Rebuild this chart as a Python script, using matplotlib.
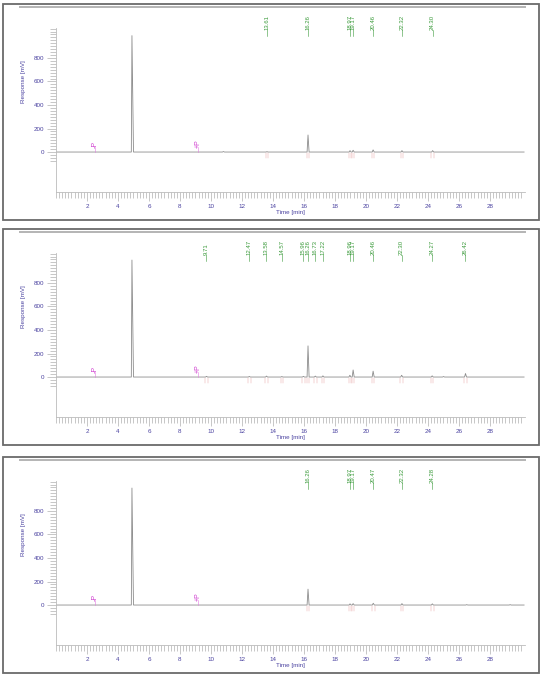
import numpy as np
import matplotlib.pyplot as plt
from matplotlib.lines import Line2D
from matplotlib.patches import Rectangle
from matplotlib.transforms import blended_transform_factory

plt.rcParams['font.family'] = ['Liberation Sans', 'DejaVu Sans']

# peak tables (retention time [min], height [mV])
rt1 = [4.90, 10.80, 13.61, 16.26, 18.97, 19.17, 20.46, 22.32, 24.30]
mv1 = [990, 4, 3, 145, 12, 15, 18, 12, 12]
lab1 = ['13.61', '16.26', '18.97', '19.17', '20.46', '22.32', '24.30']

rt2 = [4.90, 9.71, 12.47, 13.58, 14.57, 15.96, 16.26, 16.73, 17.22,
       18.96, 19.17, 20.46, 22.30, 24.27, 25.00, 26.42]
mv2 = [995, 6, 5, 8, 4, 6, 265, 8, 10, 15, 60, 50, 15, 10, 4, 30]
lab2 = ['9.71', '12.47', '13.58', '14.57', '15.96', '16.26', '16.73', '17.22',
        '18.96', '19.17', '20.46', '22.30', '24.27', '26.42']

rt3 = [4.90, 16.26, 18.97, 19.17, 20.47, 22.32, 24.28, 26.50, 29.30]
mv3 = [995, 135, 10, 12, 15, 12, 10, 3, 3]
lab3 = ['16.26', '18.97', '19.17', '20.47', '22.32', '24.28']

event_rt = [2.52, 9.18]
event_txt = ['-P', '+P']

x_ticks = list(range(2, 29, 2))
y_ticks = [0, 200, 400, 600, 800]

panels = [(rt1, mv1, lab1), (rt2, mv2, lab2), (rt3, mv3, lab3)]

BLUE = '#4a42a0'
GREEN = '#3a9a3a'
W, H = 550, 681


def trace(rts, mvs):
    t = [0.0]
    y = [0.0]
    for r, h in sorted(zip(rts, mvs)):
        wl = 0.04 if h > 500 else 0.06
        wr = 0.10 if h > 500 else 0.07
        t += [r - wl, r, r + wr]
        y += [0, h, 0]
    t.append(30.2)
    y.append(0)
    return t, y


fig = plt.figure(figsize=(5.5, 6.81), dpi=100)
tops = [4, 229, 457]

for top, (rts, mvs, labs) in zip(tops, panels):
    # panel frame
    fig.add_artist(Rectangle((3 / W, 1 - (top + 216) / H), 536 / W, 216 / H,
                             transform=fig.transFigure, fill=False,
                             ec='#6a6a6a', lw=1.3))
    fig.add_artist(Line2D([20 / W, 525 / W], [1 - (top + 2.5) / H] * 2,
                          transform=fig.transFigure, color='#b4b4b4', lw=1.4))

    ax = fig.add_axes([56 / W, 1 - (top + 188) / H, 469 / W, 164 / H])
    ax.set_xlim(0, 30.26)
    ax.set_ylim(-340, 1055)
    for s in ['top', 'right']:
        ax.spines[s].set_visible(False)
    for s in ['left', 'bottom']:
        ax.spines[s].set_color('#bcbcbc')
        ax.spines[s].set_linewidth(0.6)

    ax.set_xticks(x_ticks)
    ax.set_xticks(np.arange(0, 30.1, 0.2), minor=True)
    ax.set_yticks(y_ticks)
    ax.set_yticks(np.arange(-75, 1051, 25), minor=True)
    ax.tick_params(which='both', colors='#b0b0b0', labelcolor=BLUE,
                   labelsize=4.5, width=0.5)
    ax.tick_params(which='major', length=6.5, pad=2)
    ax.tick_params(which='minor', length=4)

    t, y = trace(rts, mvs)
    ax.plot(t, y, color='#8c8c8c', lw=0.6)

    # peak boundary marks and retention time labels
    for lab in labs:
        x = float(lab)
        for dx in (-0.08, 0.08):
            ax.plot([x + dx, x + dx], [-5, -50], color='#e8a8a8', lw=0.35)
        ax.plot([x, x], [990, 1038], color=GREEN, lw=0.4, clip_on=False)
        ax.text(x, 1040, lab, rotation=90, ha='center', va='bottom',
                fontsize=4.3, color=GREEN, clip_on=False)

    # integration events
    for x, txt in zip(event_rt, event_txt):
        ax.plot([x, x], [0, 40], color='#e27ae2', lw=0.4)
        ax.text(x, 35, txt, rotation=90, ha='center', va='bottom',
                fontsize=5, color='#d040d0')

    ax.text(-0.07, 600, 'Response [mV]', rotation=90, ha='center', va='center',
            fontsize=4.5, color=BLUE,
            transform=blended_transform_factory(ax.transAxes, ax.transData))
    ax.text(15.1, -0.128, 'Time [min]', ha='center', va='center',
            fontsize=4.5, color=BLUE,
            transform=blended_transform_factory(ax.transData, ax.transAxes))

fig.savefig('out.png', dpi=100)
